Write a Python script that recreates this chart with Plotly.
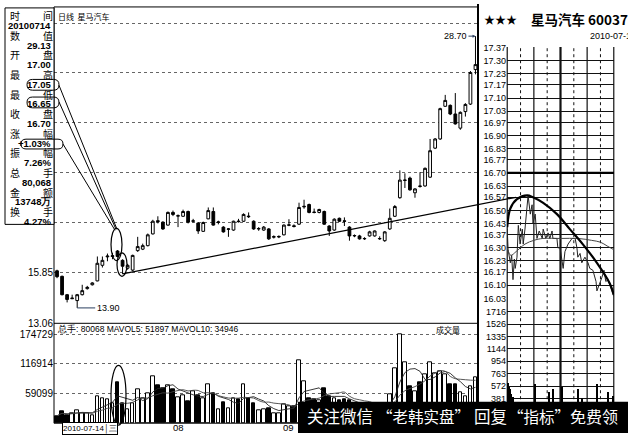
import plotly.graph_objects as go
import pandas as pd

W, H = 628, 438

# ---------------- daily candles (index 0 = 2010-06-28) ----------------
opens = [15.92, 15.62, 14.62, 14.40, 14.30, 14.62, 14.95, 15.16, 15.37, 16.22,
         16.68, 16.70, 17.00, 16.49, 16.06, 15.96, 17.02, 17.10, 17.29, 17.93,
         18.65, 18.57, 18.41, 19.10, 18.90, 18.89, 19.15, 18.62, 18.52, 18.07,
         18.75, 19.15, 18.55, 18.30, 18.18, 18.14, 18.63, 18.62, 18.90, 18.62,
         18.20, 18.14, 18.20, 17.75, 17.76, 17.88, 18.40, 18.37, 18.46, 19.40,
         19.53, 19.12, 19.10, 19.15, 18.36, 18.14, 18.78, 18.64, 18.30, 17.82,
         17.82, 17.66, 17.82, 17.82, 17.66, 17.56, 18.20, 18.89, 19.90, 20.84,
         20.97, 20.17, 20.54, 20.54, 21.02, 22.60, 23.10, 24.88, 24.93, 24.46,
         23.69, 24.59, 25.00, 26.88]
highs = [15.98, 15.66, 14.66, 14.62, 14.66, 15.16, 15.10, 15.30, 16.70, 16.70,
         16.86, 16.90, 17.05, 16.55, 16.30, 16.80, 17.77, 17.40, 17.95, 18.70,
         18.89, 18.62, 19.15, 19.20, 18.99, 19.25, 19.20, 18.75, 18.57, 18.60,
         19.37, 19.37, 18.65, 18.35, 18.25, 18.65, 18.75, 19.05, 19.10, 18.67,
         18.30, 18.36, 18.25, 17.85, 17.85, 18.45, 18.73, 18.45, 19.63, 19.79,
         19.58, 19.31, 19.30, 19.20, 18.40, 18.78, 18.82, 18.83, 18.35, 17.90,
         17.88, 17.75, 18.10, 18.12, 17.80, 18.08, 19.31, 19.50, 21.39, 21.23,
         21.05, 20.42, 21.29, 21.55, 23.10, 23.15, 24.80, 25.50, 24.98, 25.60,
         24.60, 25.05, 26.80, 28.70]
lows = [15.52, 14.58, 14.20, 14.38, 13.90, 14.58, 14.90, 15.12, 15.35, 16.10,
        16.44, 16.55, 16.65, 15.75, 15.98, 15.90, 16.95, 17.05, 17.25, 17.90,
        18.50, 18.15, 18.38, 18.90, 18.30, 18.85, 18.50, 18.55, 17.93, 18.04,
        18.73, 18.38, 18.45, 18.00, 17.77, 18.10, 18.55, 18.58, 18.80, 18.15,
        18.10, 18.10, 17.60, 17.68, 17.70, 17.85, 18.35, 18.28, 18.42, 19.30,
        19.05, 19.05, 19.05, 18.42, 17.82, 18.10, 18.58, 18.36, 17.56, 17.75,
        17.62, 17.60, 17.78, 17.78, 17.60, 17.50, 18.15, 18.85, 19.85, 20.43,
        20.28, 19.90, 20.45, 20.50, 20.98, 22.55, 23.05, 24.85, 24.40, 23.88,
        23.60, 24.32, 24.95, 26.62]
closes = [15.60, 14.62, 14.36, 14.43, 14.62, 14.84, 15.02, 15.26, 16.33, 16.49,
          16.72, 16.74, 16.70, 16.17, 16.22, 16.76, 17.24, 17.29, 17.88, 18.62,
          18.60, 18.20, 19.10, 18.99, 18.92, 19.15, 18.57, 18.64, 18.09, 18.55,
          19.20, 18.41, 18.58, 18.04, 18.20, 18.62, 18.60, 18.99, 18.87, 18.20,
          18.22, 18.30, 17.66, 17.78, 17.79, 18.41, 18.42, 18.34, 19.37, 19.43,
          19.10, 19.10, 19.26, 18.46, 18.09, 18.73, 18.62, 18.62, 17.82, 17.84,
          17.66, 17.68, 18.04, 18.09, 17.68, 18.04, 18.78, 19.42, 20.86, 20.86,
          20.33, 20.38, 20.52, 21.50, 22.46, 23.10, 24.75, 25.20, 24.46, 23.92,
          24.55, 24.98, 26.72, 27.15]
volumes = [14500, 24000, 16000, 20000, 26000, 20000, 20000, 16000, 53000, 49000,
           47000, 39000, 80068, 39000, 28000, 39000, 67000, 49000, 58000, 93000,
           74000, 69000, 74000, 67000, 51000, 55000, 43000, 62000, 54000, 48000,
           76000, 58000, 28000, 41000, 30000, 49000, 47000, 76000, 49000, 39000,
           26000, 28000, 30000, 20000, 20000, 37000, 34000, 34000, 124000, 82000,
           49000, 47000, 45000, 69000, 53000, 49000, 45000, 47000, 45000, 32000,
           28000, 25000, 30000, 30000, 27000, 38000, 57000, 107000, 174729, 120000,
           72000, 62000, 80000, 95000, 120000, 97000, 101000, 95000, 76000, 76000,
           60000, 53000, 72000, 91000]

price_grid = [13.06, 15.85, 18.57, 21.29, 24.00, 26.72, 29.39]
price_grid_text = ["13.06", "15.85", "", "", "", "", ""]
vol_grid = [59099, 116914, 174729]
month_labels = ["06", "08", "09"]
month_idx = [-2, 24, 46]
cursor_idx = 12
info_rows = [("时", "间", "20100714"), ("数", "值", "29.13"), ("开", "盘", "17.00"),
             ("最", "高", "17.05"), ("最", "低", "16.65"), ("收", "盘", "16.70"),
             ("涨", "幅", "+1.03%"), ("振", "幅", "7.26%"), ("总", "手", "80,068"),
             ("金", "额", "13748万"), ("换", "手", "4.27%")]

# ---------------- intraday 2010-07-15 ----------------
intra_levels = [17.37, 17.30, 17.23, 17.17, 17.10, 17.03, 16.97, 16.90, 16.83, 16.77, 16.70,
                16.63, 16.57, 16.50, 16.43, 16.37, 16.30, 16.23, 16.17, 16.10, 16.03]
pct_labels = ["4.01", "3.62", "3.20", "2.80", "2.42", "2.00", "1.61", "1.21", "0.80", "0.40", "0.00",
              "0.40", "0.80", "1.21", "1.61", "2.00", "2.42", "2.85", "3.20", "3.62", "4.00"]
ivol_levels = [0, 190, 381, 572, 763, 954, 1144, 1335, 1526, 1716]
intra_min = [0, 2, 7, 10, 13, 16, 18, 22, 25, 29, 34, 36, 40, 45, 47, 52, 56, 58, 63, 67,
             72, 79, 81, 87, 92, 96, 101, 103, 112, 114, 119, 126, 130, 137, 146, 153, 157, 159, 164, 168,
             175, 182, 186, 193, 200, 202, 209, 213, 218, 222, 227, 233, 238, 240]
intra_price = [16.40, 16.29, 16.22, 16.26, 16.13, 16.24, 16.19, 16.25, 16.42, 16.32,
               16.40, 16.32, 16.40, 16.55, 16.58, 16.48, 16.53, 16.43, 16.48, 16.35,
               16.39, 16.35, 16.40, 16.35, 16.38, 16.35, 16.39, 16.35, 16.35, 16.30,
               16.30, 16.19, 16.28, 16.32, 16.35, 16.35, 16.30, 16.25, 16.27, 16.22,
               16.25, 16.22, 16.19, 16.18, 16.12, 16.07, 16.11, 16.14, 16.18, 16.12,
               16.13, 16.09, 16.05, 16.04]
avg_min = [0, 8, 20, 40, 60, 80, 120, 160, 190, 210, 225, 240]
avg_price = [16.30, 16.26, 16.28, 16.32, 16.34, 16.35, 16.35, 16.35, 16.34, 16.33, 16.31, 16.29]
arc_min = [0, 7, 22, 45, 58, 81, 112, 141, 170, 202, 231, 240]
arc_price = [16.41, 16.51, 16.56, 16.58, 16.57, 16.54, 16.48, 16.40, 16.32, 16.22, 16.11, 16.05]
iv_min = [2, 4, 7, 9, 13, 63, 94, 103, 123, 159, 168, 202, 227, 238]
iv_vol = [620, 560, 520, 450, 400, 600, 480, 520, 560, 520, 380, 600, 480, 420]

# ---------------- geometry ----------------
def px(x):
    return x / W

def py(y):
    return 1 - y / H

XR = [-0.6, 83.5]
XD = [px(54), px(478)]
YR = [13.03, 30.29]
YD = [py(326.6), py(3)]
VR = [0, 196000]
VD = [py(428), py(326)]
X3D = [px(507), px(614)]
X3R = [-0.5, 240.5]
Y3D = [py(301.5), py(43.5)]
Y3R = [16.025, 17.375]
Y4D = [py(428), py(301.5)]
Y4R = [0, 1907]

def main_to_paper(i, p):
    return (XD[0] + (i - XR[0]) / (XR[1] - XR[0]) * (XD[1] - XD[0]),
            YD[0] + (p - YR[0]) / (YR[1] - YR[0]) * (YD[1] - YD[0]))

def intra_to_paper(m, p):
    return (X3D[0] + (m - X3R[0]) / (X3R[1] - X3R[0]) * (X3D[1] - X3D[0]),
            Y3D[0] + (p - Y3R[0]) / (Y3R[1] - Y3R[0]) * (Y3D[1] - Y3D[0]))

NUM = "Liberation Sans"
CJK = "Noto Sans CJK SC"

n = len(opens)
idx = list(range(n))
vol_colors = ["white" if c >= o else "black" for o, c in zip(opens, closes)]
vs = pd.Series(volumes)
ma5 = vs.rolling(5, min_periods=1).mean()
ma10 = vs.rolling(10, min_periods=1).mean()

fig = go.Figure()
fig.add_trace(go.Candlestick(
    x=idx, open=opens, high=highs, low=lows, close=closes,
    increasing=dict(line=dict(color="black", width=1), fillcolor="white"),
    decreasing=dict(line=dict(color="black", width=1), fillcolor="black"),
    whiskerwidth=0, xaxis="x", yaxis="y", showlegend=False, hoverinfo="skip"))
fig.add_trace(go.Bar(x=idx, y=volumes, width=0.72, marker=dict(color=vol_colors, line=dict(color="black", width=1)),
                     xaxis="x2", yaxis="y2", showlegend=False, hoverinfo="skip"))
fig.add_trace(go.Scatter(x=idx, y=ma5, mode="lines", line=dict(color="#222", width=0.9),
                         xaxis="x2", yaxis="y2", showlegend=False, hoverinfo="skip"))
fig.add_trace(go.Scatter(x=idx, y=ma10, mode="lines", line=dict(color="#444", width=0.9, shape="spline"),
                         xaxis="x2", yaxis="y2", showlegend=False, hoverinfo="skip"))

# intraday
fig.add_trace(go.Scatter(x=intra_min, y=intra_price, mode="lines", line=dict(color="#222", width=1),
                         xaxis="x3", yaxis="y3", showlegend=False, hoverinfo="skip"))
fig.add_trace(go.Scatter(x=avg_min, y=avg_price, mode="lines", line=dict(color="#444", width=1, shape="spline"),
                         xaxis="x3", yaxis="y3", showlegend=False, hoverinfo="skip"))
fig.add_trace(go.Scatter(x=arc_min, y=arc_price, mode="lines", line=dict(color="black", width=2.2, shape="spline"),
                         xaxis="x3", yaxis="y3", showlegend=False, hoverinfo="skip"))
fig.add_trace(go.Bar(x=iv_min, y=iv_vol, width=1.6, marker=dict(color="black", line=dict(width=0)),
                     xaxis="x4", yaxis="y4", showlegend=False, hoverinfo="skip"))

hidden_x = dict(showgrid=False, showticklabels=False, zeroline=False, showline=False, ticks="", fixedrange=True)
fig.update_layout(
    width=W, height=H, margin=dict(l=0, r=0, t=0, b=0),
    paper_bgcolor="white", plot_bgcolor="white",
    boxgap=0.22, bargap=0, showlegend=False,
    xaxis=dict(domain=XD, range=XR, anchor="y", rangeslider=dict(visible=False), **hidden_x),
    yaxis=dict(domain=YD, range=YR, anchor="x", tickvals=price_grid, ticktext=price_grid_text,
               showgrid=True, gridcolor="#666", griddash="dot", gridwidth=1, zeroline=False, ticks="",
               tickfont=dict(family=NUM, size=10, color="black")),
    xaxis2=dict(domain=XD, range=XR, anchor="y2", **hidden_x),
    yaxis2=dict(domain=VD, range=VR, anchor="x2", tickvals=vol_grid, ticktext=[str(v) for v in vol_grid],
                showgrid=True, gridcolor="#666", griddash="dot", gridwidth=1, zeroline=False, ticks="",
                tickfont=dict(family=NUM, size=10, color="black")),
    xaxis3=dict(domain=X3D, range=X3R, anchor="y3", **hidden_x),
    yaxis3=dict(domain=Y3D, range=Y3R, anchor="x3", tickvals=intra_levels, ticktext=[f"{v:.2f}" for v in intra_levels],
                showgrid=True, gridcolor="#111", gridwidth=1.2, zeroline=False, ticks="",
                tickfont=dict(family=NUM, size=9, color="black")),
    yaxis5=dict(overlaying="y3", side="right", range=Y3R, anchor="x3", tickvals=intra_levels, ticktext=pct_labels,
                showgrid=False, zeroline=False, ticks="", tickfont=dict(family=NUM, size=9, color="black")),
    xaxis4=dict(domain=X3D, range=X3R, anchor="y4", **hidden_x),
    yaxis4=dict(domain=Y4D, range=Y4R, anchor="x4", tickvals=ivol_levels, ticktext=[str(v) for v in ivol_levels],
                showgrid=True, gridcolor="#111", gridwidth=1.2, zeroline=False, ticks="",
                tickfont=dict(family=NUM, size=9, color="black")),
)

shapes = []
def line_px(x0, y0, x1, y1, w=1, color="black", dash=None):
    d = dict(type="line", xref="paper", yref="paper", x0=px(x0), y0=py(y0), x1=px(x1), y1=py(y1),
             line=dict(color=color, width=w))
    if dash:
        d["line"]["dash"] = dash
    shapes.append(d)

# frames
shapes.append(dict(type="rect", xref="paper", yref="paper", x0=px(54), y0=py(428), x1=px(478), y1=py(3),
                   line=dict(color="black", width=1)))
line_px(478, 0, 478, 438, 2)
line_px(54, 326, 478, 326, 1)
shapes.append(dict(type="rect", xref="paper", yref="paper", x0=px(5), y0=py(225), x1=px(54), y1=py(4),
                   line=dict(color="black", width=1), fillcolor="white"))
# intraday verticals
for m, w, dash in [(0, 1.2, None), (30, 1, "dot"), (60, 1.2, None), (90, 1, "dot"), (120, 2.2, None),
                   (150, 1, "dot"), (180, 1.2, None), (210, 1, "dot"), (240, 1.2, None)]:
    xp = intra_to_paper(m, 16.70)[0]
    d = dict(type="line", xref="paper", yref="paper", x0=xp, x1=xp, y0=py(428), y1=py(44),
             line=dict(color="#111", width=w), layer="below")
    if dash:
        d["line"]["dash"] = dash
    shapes.append(d)
yb = intra_to_paper(0, 16.70)[1]
shapes.append(dict(type="line", xref="paper", yref="paper", x0=X3D[0], x1=X3D[1], y0=yb, y1=yb,
                   line=dict(color="black", width=2.2)))

# trend line from 07-15 low into intraday panel
tx0, ty0 = main_to_paper(13, lows[13])
tx1, ty1 = intra_to_paper(20, 16.57)
shapes.append(dict(type="line", xref="paper", yref="paper", x0=tx0, y0=ty0, x1=tx1, y1=ty1,
                   line=dict(color="black", width=1.2)))

# circled annotations
def stadium(x0, y0, x1, y1):
    r = (y1 - y0) / 2
    path = (f"M {px(x0 + r)} {py(y0)} L {px(x1 - r)} {py(y0)} Q {px(x1)} {py(y0)} {px(x1)} {py(y0 + r)} "
            f"Q {px(x1)} {py(y1)} {px(x1 - r)} {py(y1)} L {px(x0 + r)} {py(y1)} "
            f"Q {px(x0)} {py(y1)} {px(x0)} {py(y0 + r)} Q {px(x0)} {py(y0)} {px(x0 + r)} {py(y0)} Z")
    shapes.append(dict(type="path", xref="paper", yref="paper", path=path, line=dict(color="black", width=1)))

stadium(27, 77, 59, 88)
stadium(27, 95, 59, 106)
stadium(21, 138, 63, 148)
for (x0, y0, x1, y1) in [(111, 229, 122, 262), (117, 254, 127, 278), (111, 369, 126, 430)]:
    shapes.append(dict(type="circle", xref="paper", yref="paper", x0=px(x0), y0=py(y1), x1=px(x1), y1=py(y0),
                       line=dict(color="black", width=1.2)))
line_px(59, 83, 117, 230)
line_px(59, 100, 116, 230)
line_px(63, 143, 115, 231)

# watermark band
shapes.append(dict(type="rect", xref="paper", yref="paper", x0=px(298), y0=0, x1=1, y1=py(406),
                   line=dict(width=0), fillcolor="black"))
fig.update_layout(shapes=shapes)

ann = []
def text(x, y, s, size=9, family=NUM, anchor="center", color="black", bold=False, **kw):
    if bold:
        s = f"<b>{s}</b>"
    ann.append(dict(x=px(x), y=py(y), xref="paper", yref="paper", text=s, showarrow=False,
                    xanchor=anchor, yanchor="middle", font=dict(family=family, size=size, color=color), **kw))

for k, (a, b, v) in enumerate(info_rows):
    text(15, 12 + 20 * k, a, 10, CJK)
    text(48, 12 + 20 * k, b, 10, CJK)
    text(53, 22 + 20 * k, v, 9.5, NUM, anchor="right", bold=True)

text(56, 13, "日线  星马汽车", 8, CJK, anchor="left")
text(55, 332, "总手: 80068 MAVOL5: 51897 MAVOL10: 34946", 8.5, NUM, anchor="left")
text(434, 332, "成交量", 8, CJK, anchor="left")

# month labels
for lab, i in zip(month_labels, month_idx):
    ann.append(dict(x=i, y=py(432), xref="x2", yref="paper", text=lab, showarrow=False,
                    xanchor="center", yanchor="middle", font=dict(family=NUM, size=9.5, color="black")))
ann.append(dict(x=cursor_idx, y=py(433), xref="x2", yref="paper", text="2010-07-14│三", showarrow=False,
                xanchor="right", yanchor="middle", bgcolor="white", bordercolor="black", borderwidth=1, borderpad=0,
                font=dict(family=NUM, size=8, color="black")))

# high / low labels
ann.append(dict(x=n - 1, y=max(highs), xref="x", yref="y", text="28.70", showarrow=True, arrowhead=2,
                arrowsize=0.6, arrowwidth=1, ax=-20, ay=0, font=dict(family=NUM, size=9, color="black")))
ilow = lows.index(min(lows))
ann.append(dict(x=ilow, y=min(lows), xref="x", yref="y", text="13.90", showarrow=True, arrowhead=0,
                arrowwidth=1, ax=18, ay=0, xanchor="left", font=dict(family=NUM, size=9, color="black")))

# right panel title
text(500, 15, "★★★", 11, CJK)
text(529, 15, "星马汽车 600375", 13.5, CJK, anchor="left", bold=True)
text(588, 33, "2010-07-15", 9, NUM, anchor="left")

# watermark text, placed group by group
for s, x, fs in [("关注微信", 305, 16.5), ("“老韩实盘”", 375, 15.5), ("回复", 472, 16.5),
                 ("“指标”", 506, 15.5), ("免费领", 568, 16)]:
    text(x, 421, s, fs, CJK, anchor="left", color="white")

fig.update_layout(annotations=ann)
fig.write_html("out.html", config={"displayModeBar": False},
               post_script="document.body.style.margin='0';document.body.style.overflow='hidden';")
